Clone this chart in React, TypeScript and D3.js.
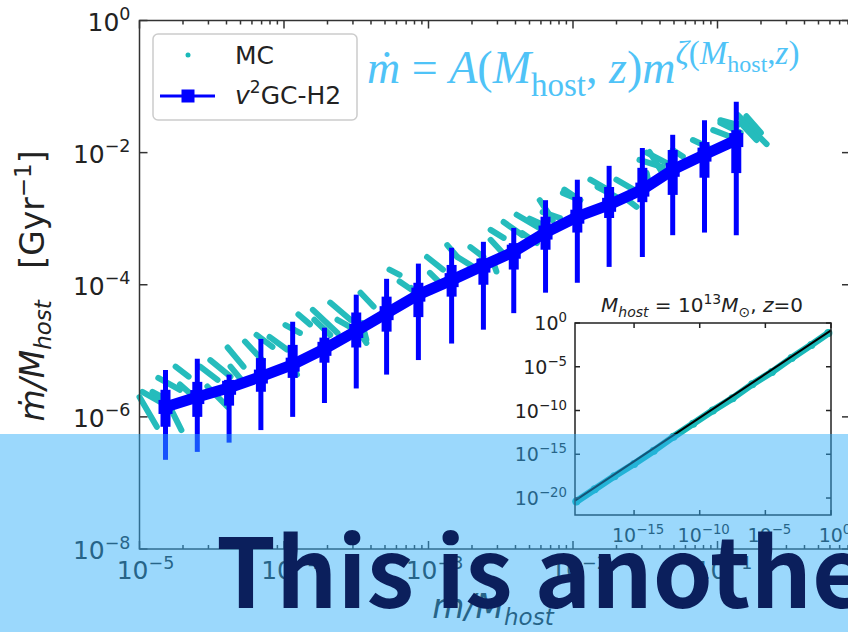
import * as d3 from 'd3'

// bins in log10(m/M_host), values in log10(mdot/M_host) [Gyr^-1]
const binLogM = [-4.82, -4.6, -4.38, -4.16, -3.94, -3.72, -3.5, -3.29, -3.07, -2.84, -2.62, -2.41, -2.19, -1.97, -1.75, -1.52, -1.31, -1.09, -0.87]
const medianLog = [-5.85, -5.7, -5.56, -5.39, -5.21, -4.97, -4.7, -4.43, -4.15, -3.93, -3.71, -3.5, -3.21, -2.97, -2.79, -2.56, -2.26, -2.03, -1.81]
const innerHiLog = [-5.59, -5.47, -5.44, -5.11, -4.91, -4.8, -4.42, -4.18, -3.97, -3.7, -3.6, -3.37, -2.97, -2.67, -2.52, -2.23, -1.96, -1.84, -1.66]
const innerLoLog = [-6.15, -6.0, -5.83, -5.62, -5.41, -5.18, -4.95, -4.71, -4.49, -4.18, -4.0, -3.77, -3.47, -3.21, -2.99, -2.75, -2.64, -2.38, -2.31]
const outerHiLog = [-5.29, -5.12, -5.36, -4.82, -4.56, -4.65, -4.15, -3.91, -3.68, -3.44, -3.35, -3.14, -2.72, -2.41, -2.2, -1.93, -1.73, -1.51, -1.23]
const outerLoLog = [-6.65, -6.53, -6.39, -6.2, -6.0, -5.79, -5.57, -5.36, -5.14, -4.89, -4.68, -4.43, -4.12, -3.97, -3.73, -3.58, -3.25, -3.21, -3.25]

// MC realisations: short streaks [logM1, logRate1, logM2, logRate2]
const mcStreaks = [
  [-5.0, -5.7, -4.88, -6.15], [-4.98, -5.62, -4.86, -5.77], [-4.91, -5.62, -4.81, -5.74],
  [-4.87, -5.41, -4.72, -5.59], [-4.79, -5.85, -4.71, -6.2], [-4.75, -5.24, -4.66, -5.39],
  [-4.72, -5.51, -4.6, -5.74], [-4.58, -5.24, -4.46, -5.44], [-4.51, -5.14, -4.37, -5.39],
  [-4.53, -5.54, -4.39, -5.85], [-4.39, -4.95, -4.28, -5.24], [-4.37, -5.24, -4.28, -5.48],
  [-4.27, -4.86, -4.15, -5.14], [-4.19, -4.76, -4.08, -4.94], [-4.1, -4.79, -3.98, -4.98],
  [-3.99, -4.61, -3.89, -4.73], [-3.96, -5.14, -3.91, -5.36], [-3.8, -4.38, -3.63, -4.73],
  [-3.79, -4.53, -3.68, -4.76], [-3.68, -4.27, -3.54, -4.53], [-3.49, -4.68, -3.43, -4.88],
  [-3.63, -4.53, -3.54, -4.64], [-3.47, -4.12, -3.38, -4.33], [-3.46, -4.58, -3.43, -4.83],
  [-3.27, -3.77, -3.2, -3.85], [-3.01, -3.58, -2.9, -3.77], [-2.99, -3.82, -2.92, -3.97],
  [-2.87, -3.4, -2.8, -3.58], [-2.8, -3.58, -2.69, -3.73], [-2.71, -3.43, -2.62, -3.58],
  [-2.57, -3.17, -2.48, -3.29], [-2.57, -3.32, -2.46, -3.58], [-2.55, -3.67, -2.53, -3.8],
  [-2.48, -3.05, -2.35, -3.25], [-2.39, -2.94, -2.21, -3.17], [-2.35, -3.22, -2.25, -3.37],
  [-2.21, -2.9, -2.09, -2.99], [-2.07, -2.61, -1.95, -2.72], [-2.23, -2.72, -2.14, -3.02],
  [-2.06, -2.56, -1.95, -2.72], [-1.88, -2.41, -1.76, -2.56], [-1.83, -2.52, -1.7, -2.67],
  [-1.7, -2.41, -1.58, -2.56], [-1.65, -2.67, -1.56, -2.82], [-1.54, -2.11, -1.38, -2.22],
  [-1.49, -2.0, -1.35, -2.16], [-1.49, -2.31, -1.47, -2.52], [-1.31, -1.96, -1.24, -2.06],
  [-1.17, -1.81, -1.07, -1.91], [-1.03, -1.66, -0.91, -1.76], [-0.98, -1.51, -0.86, -1.58],
  [-0.86, -1.43, -0.66, -1.87], [-0.84, -1.55, -0.73, -1.81], [-1.47, -1.99, -1.38, -2.31],
  [-0.98, -1.55, -0.84, -1.7], [-0.8, -1.45, -0.7, -1.7], [-3.9, -4.45, -3.82, -4.6],
  [-3.2, -3.95, -3.1, -4.1], [-3.12, -4.05, -3.05, -4.2], [-2.3, -3.0, -2.2, -3.1],
]

const yTickExps = [0, -2, -4, -6, -8]
const xTickExps = [-5, -4, -3, -2, -1]

// inset: M_host = 1e13, z = 0
const insetMcLogM = [-19.4, -18, -16.5, -15, -13.5, -12, -10.5, -9, -7.5, -6, -4.5, -3, -1.5, -0.2]
const insetMcLogRate = [-20.4, -19.0, -17.5, -16.1, -14.6, -13.0, -11.5, -10.0, -8.6, -7.0, -5.6, -4.0, -2.5, -1.15]
const insetFitLogM = [-19.5, 0]
const insetFitLogRate = [-20.3, -0.85]
const insetXTickExps = [-15, -10, -5, 0]
const insetYTickExps = [0, -5, -10, -15, -20]

const W = 848
const H = 632
const BLUE = '#0000ff'
const CYAN = '#1ab9b9'
const AXIS = '#333'
const FONT = 'DejaVu Sans'
const p10 = (v: number) => Math.pow(10, v)
const fmt = (e: number) => (e < 0 ? '\u2212' + Math.abs(e) : String(e))

function Pow10({ x, y, exp, anchor, fs, fill = '#222' }: { x: number; y: number; exp: number; anchor: string; fs: number; fill?: string }) {
  return (
    <text x={x} y={y} textAnchor={anchor} fontSize={fs} fontFamily={FONT} fill={fill}>
      10
      <tspan dy={-fs * 0.42} fontSize={fs * 0.7}>
        {fmt(exp)}
      </tspan>
    </text>
  )
}

export default function App() {
  const left = 139.5
  const right = 850
  const top = 20.5
  const bottom = 549
  const x = d3.scaleLog().domain([1e-5, p10(-0.083)]).range([left, right])
  const y = d3.scaleLog().domain([1e-8, 1]).range([bottom, top])

  const xTicks = x.ticks()
  const isMajor = (v: number) => Math.abs(Math.log10(v) - Math.round(Math.log10(v))) < 1e-6

  const line = d3
    .line<number>()
    .x((_, i) => x(p10(binLogM[i])))
    .y((d) => y(p10(d)))

  // inset scales
  const ix = d3.scaleLog().domain([p10(-19.5), 1]).range([575, 831])
  const iy = d3.scaleLog().domain([p10(-21.94), 1]).range([515, 323])
  const insetLine = d3
    .line<number>()
    .x((_, i) => ix(p10(insetMcLogM[i])))
    .y((d) => iy(p10(d)))
  const fitLine = d3
    .line<number>()
    .x((_, i) => ix(p10(insetFitLogM[i])))
    .y((d) => iy(p10(d)))

  const sub = { fontSize: 33 }

  return (
    <svg width={W} height={H} style={{ position: 'absolute', left: 0, top: 0, background: '#fff' }}>
      <rect width={W} height={H} fill="#fff" />

      {/* MC streaks */}
      <g stroke={CYAN} strokeWidth={6} strokeLinecap="round" opacity={0.95}>
        {mcStreaks.map((s, i) => (
          <line key={i} x1={x(p10(s[0]))} y1={y(p10(s[1]))} x2={x(p10(s[2]))} y2={y(p10(s[3]))} />
        ))}
      </g>

      {/* v2GC-H2 median with error bars */}
      <g stroke={BLUE}>
        {binLogM.map((m, i) => (
          <g key={i}>
            <line x1={x(p10(m))} x2={x(p10(m))} y1={y(p10(outerHiLog[i]))} y2={y(p10(outerLoLog[i]))} strokeWidth={5} />
            <line x1={x(p10(m))} x2={x(p10(m))} y1={y(p10(innerHiLog[i]))} y2={y(p10(innerLoLog[i]))} strokeWidth={10} />
          </g>
        ))}
        <path d={line(medianLog) || ''} fill="none" strokeWidth={11} strokeLinejoin="round" />
      </g>
      <g fill={BLUE}>
        {binLogM.map((m, i) => (
          <rect key={i} x={x(p10(m)) - 7} y={y(p10(medianLog[i])) - 7} width={14} height={14} />
        ))}
      </g>

      {/* main frame */}
      <g stroke={AXIS} strokeWidth={1.5} fill="none">
        <rect x={left} y={top} width={right - left} height={bottom - top} />
        {xTicks.map((t, i) => {
          const len = isMajor(t) ? 8 : 4
          return (
            <g key={i}>
              <line x1={x(t)} x2={x(t)} y1={bottom} y2={bottom - len} />
              <line x1={x(t)} x2={x(t)} y1={top} y2={top + len} />
            </g>
          )
        })}
        {yTickExps.map((e) => (
          <g key={e}>
            <line x1={left} x2={left + 8} y1={y(p10(e))} y2={y(p10(e))} />
            <line x1={right} x2={right - 8} y1={y(p10(e))} y2={y(p10(e))} />
          </g>
        ))}
      </g>
      {yTickExps.map((e) => (
        <Pow10 key={e} x={left - 9} y={y(p10(e)) + 10} exp={e} anchor="end" fs={25} />
      ))}
      {xTickExps.map((e) => (
        <Pow10 key={e} x={x(p10(e)) + 6} y={579} exp={e} anchor="middle" fs={25} />
      ))}

      {/* axis labels */}
      <text x={493} y={618} textAnchor="middle" fontSize={33} fontFamily={FONT} fill="#222" fontStyle="italic">
        m/M<tspan dy={7} fontSize={23}>host</tspan>
      </text>
      <text transform="translate(44,286) rotate(-90)" textAnchor="middle" fontSize={33} fontFamily={FONT} fill="#222">
        <tspan fontStyle="italic">{'\u1e41/M'}</tspan>
        <tspan fontStyle="italic" dy={7} fontSize={23}>host</tspan>
        <tspan dy={-7}>{'\u00a0\u00a0\u00a0[Gyr'}</tspan>
        <tspan dy={-13} fontSize={23}>{'\u22121'}</tspan>
        <tspan dy={13}>]</tspan>
      </text>

      {/* legend */}
      <rect x={153} y={34} width={204} height={86} rx={5} fill="#fff" fillOpacity={0.85} stroke="#ccc" strokeWidth={1.5} />
      <circle cx={188} cy={55} r={2.5} fill={CYAN} />
      <text x={235} y={64} fontSize={25} fontFamily={FONT} fill="#222">MC</text>
      <line x1={160} x2={215} y1={96} y2={96} stroke={BLUE} strokeWidth={3} />
      <rect x={181.5} y={89.5} width={13} height={13} fill={BLUE} />
      <text x={235} y={104} fontSize={25} fontFamily={FONT} fill="#222">
        <tspan fontStyle="italic">v</tspan>
        <tspan dy={-11} fontSize={17}>2</tspan>
        <tspan dy={11}>GC-H2</tspan>
      </text>

      {/* fitting formula */}
      <text x={367} y={83} fontSize={46} fontFamily="Liberation Serif" fill="#4fc3f7">
        <tspan fontStyle="italic">{'\u1e41'}</tspan>
        <tspan>{'\u00a0=\u00a0'}</tspan>
        <tspan fontStyle="italic">A</tspan>
        <tspan>(</tspan>
        <tspan fontStyle="italic">M</tspan>
        <tspan dy={13} fontSize={33}>host</tspan>
        <tspan dy={-13}>{',\u00a0'}</tspan>
        <tspan fontStyle="italic">z</tspan>
        <tspan>)</tspan>
        <tspan fontStyle="italic">m</tspan>
        <tspan dy={-19} {...sub} fontStyle="italic">{'\u03b6'}</tspan>
        <tspan {...sub}>(</tspan>
        <tspan {...sub} fontStyle="italic">M</tspan>
        <tspan dy={8} fontSize={24}>host</tspan>
        <tspan dy={-8} {...sub}>,</tspan>
        <tspan {...sub} fontStyle="italic">z</tspan>
        <tspan {...sub}>)</tspan>
      </text>

      {/* inset */}
      <rect x={575} y={323} width={256} height={192} fill="#fff" />
      <path d={insetLine(insetMcLogRate) || ''} fill="none" stroke={CYAN} strokeWidth={7} strokeLinejoin="round" strokeLinecap="round" />
      <g fill={CYAN}>
        {insetMcLogM.map((m, i) => (
          <circle key={i} cx={ix(p10(m))} cy={iy(p10(insetMcLogRate[i]))} r={4} />
        ))}
      </g>
      <path d={fitLine(insetFitLogRate) || ''} fill="none" stroke="#000" strokeWidth={2} />
      <g stroke="#222" strokeWidth={1.5} fill="none">
        <rect x={575} y={323} width={256} height={192} />
        {insetXTickExps.map((e) => (
          <g key={e}>
            <line x1={ix(p10(e))} x2={ix(p10(e))} y1={515} y2={510} />
            <line x1={ix(p10(e))} x2={ix(p10(e))} y1={323} y2={328} />
          </g>
        ))}
        {insetYTickExps.map((e) => (
          <g key={e}>
            <line x1={575} x2={580} y1={iy(p10(e))} y2={iy(p10(e))} />
            <line x1={831} x2={826} y1={iy(p10(e))} y2={iy(p10(e))} />
          </g>
        ))}
      </g>
      {insetXTickExps.map((e) => (
        <Pow10 key={e} x={ix(p10(e)) + 4} y={542} exp={e} anchor="middle" fs={19} />
      ))}
      {insetYTickExps.map((e) => (
        <Pow10 key={e} x={567} y={iy(p10(e)) + 7} exp={e} anchor="end" fs={19} />
      ))}
      <text x={702} y={312} textAnchor="middle" fontSize={20} fontFamily={FONT} fill="#222">
        <tspan fontStyle="italic">M</tspan>
        <tspan fontStyle="italic" dy={5} fontSize={14}>host</tspan>
        <tspan dy={-5}>{'\u00a0=\u00a010'}</tspan>
        <tspan dy={-8} fontSize={14}>13</tspan>
        <tspan dy={8} fontStyle="italic">M</tspan>
        <tspan dy={5} fontSize={14}>{'\u2299'}</tspan>
        <tspan dy={-5}>{',\u00a0'}</tspan>
        <tspan fontStyle="italic">z</tspan>
        <tspan>=0</tspan>
      </text>

      {/* banner overlay */}
      <rect x={0} y={434} width={W} height={H - 434} fill="#2eadf8" fillOpacity={0.48} />
      <text x={216} y={608} fontSize={96} fontWeight={700} fontFamily="Noto Sans CJK JP" fill="#0b1f5c">
        This is another
      </text>
    </svg>
  )
}
